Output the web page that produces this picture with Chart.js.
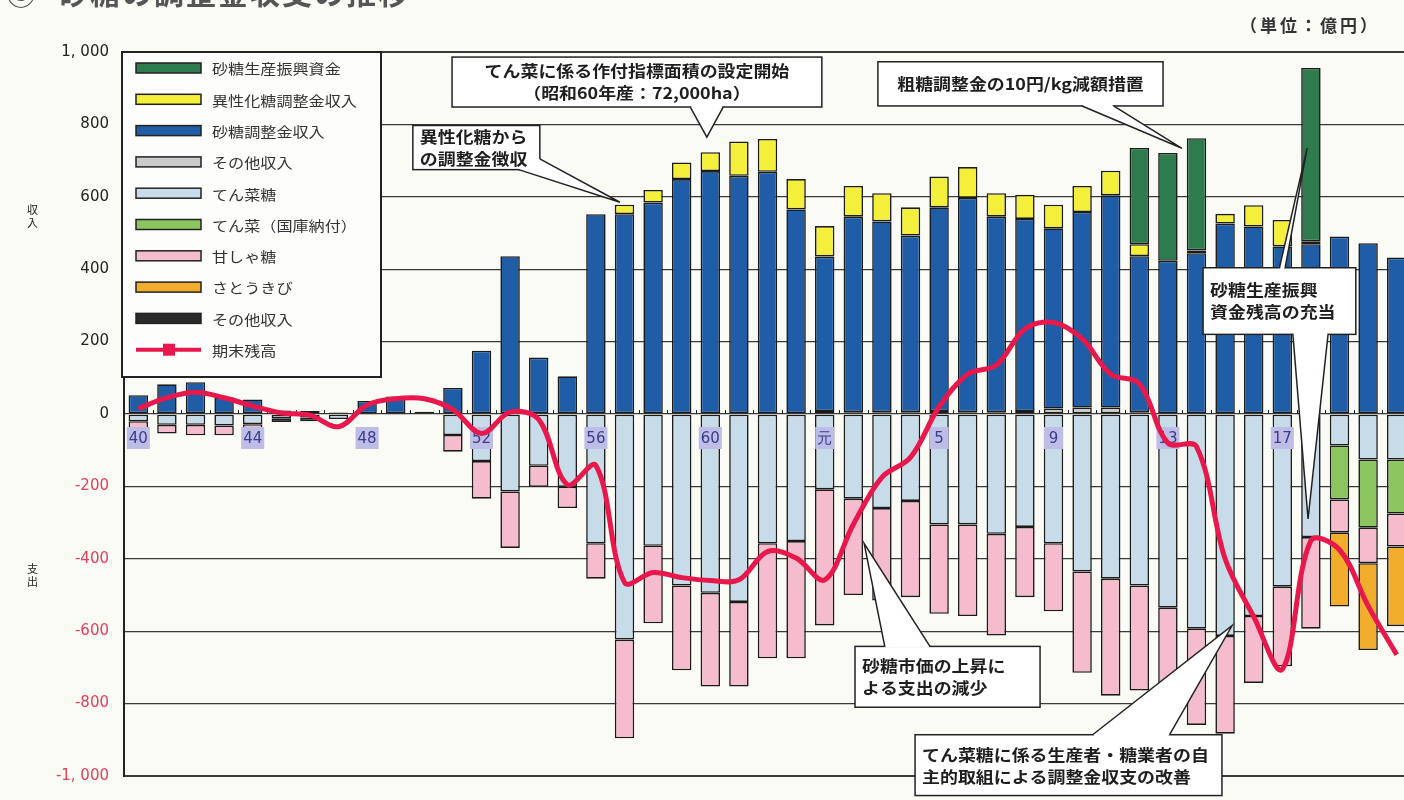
<!DOCTYPE html>
<html>
<head>
<meta charset="utf-8">
<script src="https://cdn.jsdelivr.net/npm/chart.js@4.4.1/dist/chart.umd.min.js"></script>
<style>
  html, body { margin: 0; padding: 0; background: #fbfbf6; overflow: hidden; }
  #wrap { position: relative; width: 1404px; height: 800px; overflow: hidden; }
  #c { position: absolute; left: 0; top: 0; }
  .t { position: absolute; font-family: "Noto Sans CJK JP", sans-serif; color: #222; white-space: nowrap; }
</style>
</head>
<body>
<div id="wrap">
  <canvas id="c" width="1420" height="800" style="width:1420px;height:800px"></canvas>
  <div class="t" style="left:6px;top:-31px;font-size:30px;font-weight:bold;color:#555">⑤</div>
  <div class="t" style="left:58px;top:-31px;font-size:30px;font-weight:bold;color:#555;letter-spacing:2px">砂糖の調整金収支の推移</div>
  <div class="t" style="left:1240px;top:12px;font-size:17px;font-weight:bold;letter-spacing:3px;color:#333">（単位：億円）</div>
  <div class="t" style="left:27px;top:203px;font-size:11px;line-height:13px;width:12px;white-space:normal">収入</div>
  <div class="t" style="left:27px;top:562px;font-size:11px;line-height:13px;width:12px;white-space:normal">支出</div>
</div>
<script>
// 年度（昭和40年～平成21年）
var years = ['40','41','42','43','44','45','46','47','48','49','50','51','52','53','54','55','56','57','58','59',
  '60','61','62','63','元','2','3','4','5','6','7','8','9','10','11','12','13','14','15','16','17','18','19','20','21'];
var shownYears = ['40','44','48','52','56','60','元','5','9','13','17'];

// 収入（億円）
var otherIn   = [0,0,0,0,0,0,0,0,0,0,0,0,0,0,0,0,0,0,0,0, 0,0,0,0,8,5,5,5,8,5,5,8,15,18,18,5,0,0,0,0,0,0,0,0,0];
var sugarAdj  = [52,82,88,46,40,10,8,4,36,48,6,72,175,436,156,104,552,552,584,649,
  671,658,669,565,427,540,527,488,563,592,540,531,498,540,586,431,423,444,526,518,463,469,490,472,432];
var isoSugar  = [0,0,0,0,0,0,0,0,0,0,0,0,0,0,0,0,0,26,35,46, 52,95,91,84,84,85,78,78,85,85,65,67,65,72,68,33,0,8,27,59,73,8,0,0,0];
var promoFund = [0,0,0,0,0,0,0,0,0,0,0,0,0,0,0,0,0,0,0,0, 0,0,0,0,0,0,0,0,0,0,0,0,0,0,0,266,298,310,0,0,0,479,0,0,0];

// 支出（億円）
var beetSugar = [-20,-30,-30,-32,-28,-12,-10,-14,-3,-3,0,-58,-130,-214,-143,-201,-357,-623,-364,-474,
  -494,-519,-357,-351,-208,-234,-260,-240,-305,-305,-331,-312,-357,-435,-455,-474,-535,-593,-613,-558,-477,-340,-87,-126,-126];
var beetPay   = [0,0,0,0,0,0,0,0,0,0,0,0,0,0,0,0,0,0,0,0, 0,0,0,0,0,0,0,0,0,0,0,0,0,0,0,0,0,0,0,0,0,0,-149,-188,-149];
var caneSugar = [-21,-24,-29,-27,-23,0,0,0,0,0,0,-46,-104,-156,-58,-59,-98,-273,-214,-234,
  -259,-234,-318,-324,-376,-266,-255,-266,-247,-253,-281,-194,-188,-280,-323,-290,-216,-266,-270,-185,-220,-253,-91,-98,-91];
var caneCrop  = [0,0,0,0,0,0,0,0,0,0,0,0,0,0,0,0,0,0,0,0, 0,0,0,0,0,0,0,0,0,0,0,0,0,0,0,0,0,0,0,0,0,0,-205,-240,-220];
var otherOut  = [0,0,0,0,0,-10,-10,0,0,0,0,0,0,0,0,0,0,0,0,0, 0,0,0,0,0,0,0,0,0,0,0,0,0,0,0,0,0,0,0,0,0,0,0,0,0];

// 期末残高
var balance = [15,45,60,45,22,3,-3,-35,25,42,42,12,-54,5,-15,-195,-142,-465,-438,-452,
  -460,-458,-380,-398,-458,-305,-175,-120,20,110,135,235,253,208,110,84,-80,-90,-400,-560,-705,-350,-375,-530,-665];

var JP = '"Noto Sans CJK JP", sans-serif';

function nz(arr) { return arr.map(function (v) { return v === 0 ? null : v; }); }

function barSet(label, data, color) {
  return {
    type: 'bar', label: label, data: nz(data), backgroundColor: color,
    borderColor: '#1b1b1b', borderWidth: 1.6, borderSkipped: false,
    barPercentage: 0.68, categoryPercentage: 1.0, stack: 'a', order: 1
  };
}

var datasets = [
  barSet('その他収入', otherIn, '#cbcbcb'),
  barSet('砂糖調整金収入', sugarAdj, '#1f5ea6'),
  barSet('異性化糖調整金収入', isoSugar, '#f4ef3a'),
  barSet('砂糖生産振興資金', promoFund, '#2e7b4e'),
  barSet('てん菜糖', beetSugar, '#c8dbe8'),
  barSet('てん菜（国庫納付）', beetPay, '#8cc45f'),
  barSet('甘しゃ糖', caneSugar, '#f4bccc'),
  barSet('さとうきび', caneCrop, '#f2ad2c'),
  barSet('その他収入', otherOut, '#2a2a2a'),
  {
    type: 'line', label: '期末残高', data: balance, borderColor: '#e8184c',
    backgroundColor: '#e8184c', borderWidth: 5, pointRadius: 0, tension: 0.35,
    stack: 'bal', order: 0
  }
];
var legendOrder = [3, 2, 1, 0, 4, 5, 6, 7, 8, 9];

// 吹き出し（x: 年度の位置, y: 億円）
var notes = [
  { box: [10.97, 986, 23.9, 848], align: 'center', lines: ['てん菜に係る作付指標面積の設定開始', '（昭和60年産：72,000ha）'],
    ptr: [[19.3, 848, 20.45, 848, 19.88, 765]] },
  { box: [9.6, 797, 14.04, 675], align: 'left', lines: ['異性化糖から', 'の調整金徴収'],
    ptr: [[13.3, 675, 14.04, 705, 16.84, 585]] },
  { box: [25.86, 973, 35.83, 851], align: 'center', lines: ['粗糖調整金の10円/kg減額措置'],
    ptr: [[33.0, 851, 34.1, 851, 36.49, 734]] },
  { box: [37.23, 404, 42.57, 220], align: 'left', lines: ['砂糖生産振興', '資金残高の充当'],
    ptr: [[39.9, 404, 40.1, 404, 40.87, 735], [40.37, 220, 41.6, 220, 40.9, -290]] },
  { box: [25.06, -642, 31.53, -810], align: 'left', lines: ['砂糖市価の上昇に', 'よる支出の減少'],
    ptr: [[26.1, -642, 27.68, -642, 25.38, -358]] },
  { box: [27.16, -886, 37.89, -1054], align: 'left', lines: ['てん菜糖に係る生産者・糖業者の自', '主的取組による調整金収支の改善'],
    ptr: [[33.37, -886, 36.06, -886, 38.24, -585]] }
];

function stretchText(ctx, text, x, y, sx, align) {
  ctx.save();
  ctx.translate(x, y);
  ctx.scale(sx, 1);
  ctx.textAlign = align || 'left';
  ctx.fillText(text, 0, 0);
  ctx.restore();
}

var extras = {
  id: 'extras',
  beforeDatasetsDraw: function (chart) {
    var ctx = chart.ctx, xs = chart.scales.x, ys = chart.scales.y;
    var y0 = ys.getPixelForValue(0);
    ctx.save();
    ctx.strokeStyle = '#222';
    ctx.lineWidth = 1;
    for (var k = 0; k <= years.length; k++) {
      var x = Math.round(xs.getPixelForValue(k - 0.5)) + 0.5;
      ctx.beginPath(); ctx.moveTo(x, y0 - 4); ctx.lineTo(x, y0); ctx.stroke();
    }
    ctx.restore();
  },
  beforeDatasetDraw: function (chart, args) {
    if (args.index !== 9) return;
    var ctx = chart.ctx, xs = chart.scales.x, ys = chart.scales.y;
    var y0 = ys.getPixelForValue(0);
    ctx.save();
    ctx.font = '15px "DejaVu Sans", sans-serif';
    ctx.textBaseline = 'middle';
    shownYears.forEach(function (lab) {
      var i = years.indexOf(lab);
      var x = xs.getPixelForValue(i);
      var w = Math.max(19, ctx.measureText(lab).width + 4);
      ctx.fillStyle = '#bdbde6';
      ctx.fillRect(x - w / 2, y0 + 13, w, 22);
      ctx.fillStyle = '#3b3b8c';
      ctx.textAlign = 'center';
      ctx.fillText(lab, x, y0 + 25);
    });
    ctx.restore();
  },
  afterDraw: function (chart) {
    var ctx = chart.ctx, xs = chart.scales.x, ys = chart.scales.y;
    var ca = chart.chartArea;
    // 凡例
    ctx.save();
    var lx = ca.left - 2, ly = ca.top, lw = 259, lh = 325;
    ctx.fillStyle = '#fdfdfb';
    ctx.fillRect(lx, ly, lw, lh);
    ctx.strokeStyle = '#222'; ctx.lineWidth = 2;
    ctx.strokeRect(lx, ly, lw, lh);
    ctx.font = '14px ' + JP;
    ctx.textBaseline = 'middle';
    legendOrder.forEach(function (di, k) {
      var ds = chart.data.datasets[di];
      var cy = ly + 16 + k * 31.3;
      if (ds.type === 'line') {
        ctx.strokeStyle = ds.borderColor; ctx.lineWidth = 4;
        ctx.beginPath(); ctx.moveTo(lx + 14, cy); ctx.lineTo(lx + 79, cy); ctx.stroke();
        ctx.fillStyle = ds.borderColor;
        ctx.fillRect(lx + 41, cy - 6, 12, 12);
      } else {
        ctx.fillStyle = ds.backgroundColor;
        ctx.fillRect(lx + 14, cy - 5, 65, 10);
        ctx.strokeStyle = '#222'; ctx.lineWidth = 1.5;
        ctx.strokeRect(lx + 14, cy - 5, 65, 10);
      }
      ctx.fillStyle = '#333';
      stretchText(ctx, ds.label, lx + 90, cy + 1, 1.15, 'left');
    });
    ctx.restore();

    // 吹き出し
    ctx.save();
    notes.forEach(function (n) {
      var x1 = xs.getPixelForValue(n.box[0]), y1 = ys.getPixelForValue(n.box[1]);
      var x2 = xs.getPixelForValue(n.box[2]), y2 = ys.getPixelForValue(n.box[3]);
      ctx.fillStyle = '#fff';
      ctx.fillRect(x1, y1, x2 - x1, y2 - y1);
      ctx.strokeStyle = '#222'; ctx.lineWidth = 1.5;
      ctx.strokeRect(x1, y1, x2 - x1, y2 - y1);
      n.ptr.forEach(function (p) {
        var ax = xs.getPixelForValue(p[0]), ay = ys.getPixelForValue(p[1]);
        var bx = xs.getPixelForValue(p[2]), by = ys.getPixelForValue(p[3]);
        var tx = xs.getPixelForValue(p[4]), ty = ys.getPixelForValue(p[5]);
        ctx.fillStyle = '#fff';
        ctx.beginPath(); ctx.moveTo(ax, ay); ctx.lineTo(tx, ty); ctx.lineTo(bx, by); ctx.closePath(); ctx.fill();
        ctx.strokeStyle = '#fff'; ctx.lineWidth = 2.5;
        ctx.beginPath(); ctx.moveTo(ax + 1, ay); ctx.lineTo(bx - 1, by); ctx.stroke();
        ctx.strokeStyle = '#222'; ctx.lineWidth = 1.5;
        ctx.beginPath(); ctx.moveTo(ax, ay); ctx.lineTo(tx, ty); ctx.lineTo(bx, by); ctx.stroke();
      });
      ctx.fillStyle = '#1e1e1e';
      ctx.font = 'bold 16px ' + JP;
      ctx.textBaseline = 'middle';
      var lineH = 22;
      var cy = (y1 + y2) / 2 - (n.lines.length - 1) * lineH / 2;
      if (y2 > ca.bottom + 5) cy = y1 + 20;
      n.lines.forEach(function (t, k) {
        if (n.align === 'center') stretchText(ctx, t, (x1 + x2) / 2, cy + k * lineH, 1.12, 'center');
        else stretchText(ctx, t, x1 + 7, cy + k * lineH, 1.12, 'left');
      });
    });
    ctx.restore();
  }
};

new Chart(document.getElementById('c'), {
  data: { labels: years, datasets: datasets },
  options: {
    responsive: false,
    devicePixelRatio: 1,
    animation: false,
    layout: { padding: { top: 52, bottom: 10, left: 0, right: 9 } },
    plugins: { legend: { display: false }, tooltip: { enabled: false } },
    scales: {
      x: { display: false, stacked: true, offset: true, grid: { display: false } },
      y: {
        stacked: true, min: -1000, max: 1000,
        afterFit: function (s) { s.width = 124; },
        border: { display: true, color: '#222', width: 2 },
        grid: {
          drawTicks: false, color: '#3a3a3a',
          lineWidth: function (c) { return c.tick && Math.abs(c.tick.value) === 1000 ? 2 : 1.3; }
        },
        ticks: {
          stepSize: 200, padding: 15,
          font: { family: '"DejaVu Sans", sans-serif', size: 15 },
          color: function (c) { return c.tick && c.tick.value < 0 ? '#e0405a' : '#222'; },
          callback: function (v) {
            var s = Math.abs(v) >= 1000 ? Math.floor(Math.abs(v) / 1000) + ', ' + String(Math.abs(v) % 1000).padStart(3, '0') : String(Math.abs(v));
            return (v < 0 ? '-' : '') + s;
          }
        }
      }
    }
  },
  plugins: [extras]
});
</script>
</body>
</html>
